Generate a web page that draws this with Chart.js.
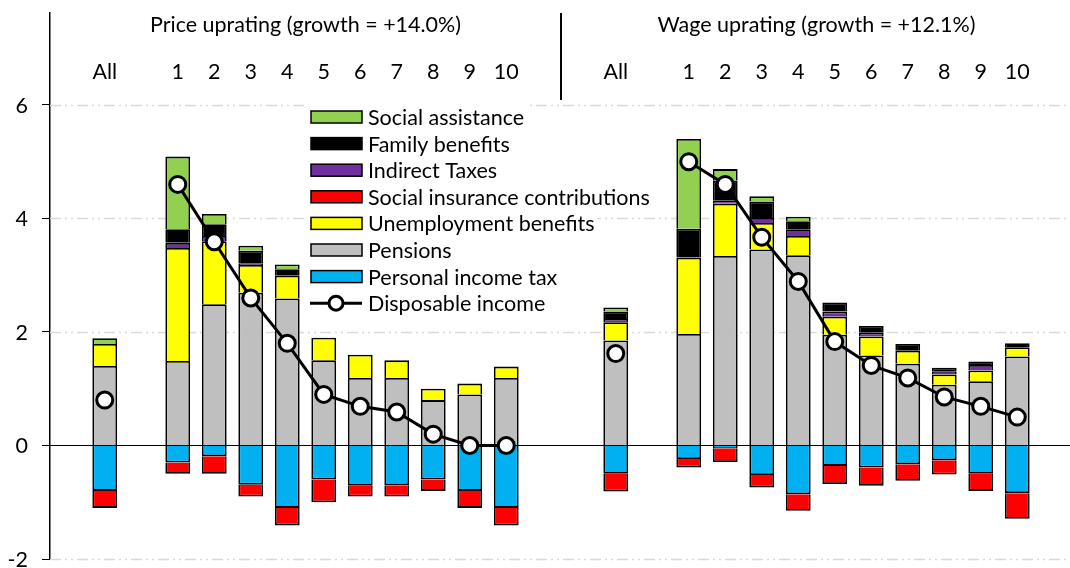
<!DOCTYPE html>
<html>
<head>
<meta charset="utf-8">
<script src="https://cdn.jsdelivr.net/npm/chart.js@4.4.1/dist/chart.umd.min.js"></script>
<style>
  html, body { margin: 0; padding: 0; background: #fff; overflow: hidden; }
  #wrap { width: 1083px; height: 568px; margin-top: 2px; }
</style>
</head>
<body>
<div id="wrap"><canvas id="chart" width="1083" height="568"></canvas></div>
<script>
// slots along the x axis: blank, All, blank, 1..10, two blanks, All, blank, 1..10, blank
const groupCats = ['All', '1', '2', '3', '4', '5', '6', '7', '8', '9', '10'];
const groupTitles = ['Price uprating (growth = +14.0%)', 'Wage uprating (growth = +12.1%)'];
const yTicks = [-2, 0, 2, 4, 6];

// values per group: [All, decile 1 .. decile 10]
const pricePIT      = [-0.80, -0.30, -0.19, -0.69, -1.10, -0.60, -0.71, -0.70, -0.60, -0.80, -1.10];
const pricePensions = [1.40, 1.49, 2.49, 2.69, 2.59, 1.50, 1.19, 1.19, 0.80, 0.90, 1.19];
const priceUnemp    = [0.39, 1.99, 1.11, 0.49, 0.40, 0.40, 0.41, 0.31, 0.20, 0.19, 0.20];
const priceSIC      = [-0.30, -0.20, -0.31, -0.21, -0.31, -0.40, -0.19, -0.20, -0.20, -0.30, -0.31];
const priceIndirect = [0, 0.09, 0.09, 0.02, 0, 0, 0, 0, 0, 0, 0];
const priceFamily   = [0, 0.24, 0.21, 0.23, 0.115, 0, 0, 0, 0, 0, 0];
const priceSocial   = [0.10, 1.28, 0.18, 0.09, 0.085, 0, 0, 0, 0, 0, 0];
const priceDisp     = [0.80, 4.60, 3.59, 2.60, 1.80, 0.90, 0.69, 0.59, 0.20, 0.00, 0.00];

const wagePIT      = [-0.50, -0.24, -0.05, -0.52, -0.86, -0.36, -0.39, -0.33, -0.26, -0.50, -0.84];
const wagePensions = [1.85, 1.965, 3.34, 3.455, 3.35, 1.95, 1.585, 1.44, 1.07, 1.13, 1.57];
const wageUnemp    = [0.32, 1.345, 0.92, 0.465, 0.34, 0.32, 0.335, 0.23, 0.18, 0.19, 0.16];
const wageSIC      = [-0.31, -0.15, -0.24, -0.22, -0.29, -0.32, -0.32, -0.29, -0.25, -0.30, -0.45];
const wageIndirect = [0.06, 0, 0.05, 0.09, 0.12, 0.09, 0.065, 0, 0.06, 0.10, 0];
const wageFamily   = [0.13, 0.51, 0.355, 0.29, 0.14, 0.16, 0.12, 0.12, 0.06, 0.06, 0.07];
const wageSocial   = [0.07, 1.58, 0.205, 0.09, 0.08, 0, 0, 0, 0, 0, 0];
const wageDisp     = [1.62, 5.00, 4.60, 3.67, 2.89, 1.83, 1.41, 1.19, 0.855, 0.69, 0.50];

const FONT = 'Lato, "Open Sans", sans-serif';
const FSIZE = 21.5;
const SHIFT = -2; // canvas sits 2px lower, text kept in place

// lay both groups out on one category axis, blanks between
function slots(a, b) {
  const g = v => [v[0], null].concat(v.slice(1));
  return [null].concat(g(a), [null, null], g(b), [null]);
}
const labels = slots(groupCats, groupCats).map(v => v === null ? '' : v);
function series(a, b, keepZero) {
  return slots(a, b).map(v => (v === 0 && !keepZero) ? null : v);
}

function bar(label, color, a, b) {
  return { type: 'bar', label: label, data: series(a, b), backgroundColor: color,
    borderColor: '#000', borderWidth: 1.8, stack: 'bars', order: 1,
    categoryPercentage: 1, barPercentage: 0.68 };
}

const datasets = [
  { type: 'line', label: 'Disposable income', data: series(priceDisp, wageDisp, true),
    borderColor: '#000', borderWidth: 3, pointRadius: 8, pointHoverRadius: 8,
    pointBackgroundColor: '#fff', pointBorderColor: '#000', pointBorderWidth: 3,
    stack: 'di', order: 0, spanGaps: false },
  bar('Personal income tax', '#00B0F0', pricePIT, wagePIT),
  bar('Pensions', '#BFBFBF', pricePensions, wagePensions),
  bar('Unemployment benefits', '#FFFF00', priceUnemp, wageUnemp),
  bar('Social insurance contributions', '#FF0000', priceSIC, wageSIC),
  bar('Indirect Taxes', '#7030A0', priceIndirect, wageIndirect),
  bar('Family benefits', '#000000', priceFamily, wageFamily),
  bar('Social assistance', '#92D050', priceSocial, wageSocial)
];

const decor = {
  id: 'decor',
  beforeDatasetsDraw(chart) {
    const ctx = chart.ctx, a = chart.chartArea, y = chart.scales.y;
    ctx.save();
    ctx.strokeStyle = '#D9D9D9';
    ctx.lineWidth = 1.5;
    ctx.setLineDash([11, 4, 2, 4, 2, 4]);
    yTicks.forEach(t => {
      if (t === 0) return;
      const py = Math.round(y.getPixelForValue(t)) + 0.5;
      ctx.beginPath(); ctx.moveTo(a.left, py); ctx.lineTo(a.right, py); ctx.stroke();
    });
    ctx.setLineDash([]);
    ctx.strokeStyle = '#000';
    ctx.lineWidth = 1.2;
    const z = y.getPixelForValue(0);
    ctx.beginPath(); ctx.moveTo(a.left, z); ctx.lineTo(a.right, z); ctx.stroke();
    // y tick labels
    ctx.fillStyle = '#000';
    ctx.font = FSIZE + 'px ' + FONT;
    ctx.textAlign = 'right';
    ctx.textBaseline = 'middle';
    yTicks.forEach(t => ctx.fillText(String(t), 28, y.getPixelForValue(t) + 1));
    ctx.restore();
  },
  afterDatasetsDraw(chart) {
    const ctx = chart.ctx, x = chart.scales.x;
    ctx.save();
    ctx.fillStyle = '#000';
    ctx.font = FSIZE + 'px ' + FONT;
    ctx.textAlign = 'center';
    ctx.textBaseline = 'middle';
    chart.data.labels.forEach((l, i) => {
      if (l) ctx.fillText(l, x.getPixelForValue(i), 72 + SHIFT);
    });
    // group titles centred over each group
    const first = [1, 15];
    groupTitles.forEach((t, g) => {
      const c = (x.getPixelForValue(first[g]) + x.getPixelForValue(first[g] + 11)) / 2;
      ctx.fillText(t, c, 25 + SHIFT);
    });
    // separator between the two groups
    const sx = (x.getPixelForValue(13) + x.getPixelForValue(14)) / 2;
    ctx.strokeStyle = '#000';
    ctx.lineWidth = 2;
    ctx.beginPath(); ctx.moveTo(sx, chart.chartArea.top); ctx.lineTo(sx, 100 + SHIFT); ctx.stroke();

    // legend
    const items = chart.data.datasets.filter(d => d.type === 'bar').reverse()
      .concat(chart.data.datasets.filter(d => d.type === 'line'));
    ctx.textAlign = 'left';
    items.forEach((d, i) => {
      const cy = 117 + SHIFT + i * 26.6;
      const w = ctx.measureText(d.label).width;
      ctx.fillStyle = '#fff';
      ctx.fillRect(307, cy - 13, 368 + w + 3 - 307, 26);
      if (d.type === 'bar') {
        ctx.fillStyle = d.backgroundColor;
        ctx.fillRect(311, cy - 6, 51, 12);
        ctx.strokeStyle = '#000';
        ctx.lineWidth = 1.5;
        ctx.strokeRect(311, cy - 6, 51, 12);
      } else {
        ctx.strokeStyle = '#000';
        ctx.lineWidth = 3;
        ctx.beginPath(); ctx.moveTo(310, cy); ctx.lineTo(362, cy); ctx.stroke();
        ctx.beginPath(); ctx.arc(336, cy, 7, 0, Math.PI * 2);
        ctx.fillStyle = '#fff'; ctx.fill(); ctx.stroke();
      }
      ctx.fillStyle = '#000';
      ctx.fillText(d.label, 368, cy + 1);
    });
    ctx.restore();
  }
};

new Chart(document.getElementById('chart'), {
  data: { labels: labels, datasets: datasets },
  plugins: [decor],
  options: {
    responsive: false,
    animation: false,
    layout: { padding: { top: 10, right: 1, bottom: 5.5, left: 0 } },
    plugins: { legend: { display: false }, tooltip: { enabled: false } },
    scales: {
      x: { type: 'category', stacked: true, display: false, offset: true },
      y: {
        stacked: true, min: -2, max: 7.62,
        afterFit(s) { s.width = 50; },
        afterBuildTicks(s) { s.ticks = s.ticks.filter(t => yTicks.includes(t.value)); },
        ticks: { display: false, stepSize: 2 },
        grid: { drawOnChartArea: false, tickColor: '#000', tickLength: 8, tickWidth: 1 },
        border: { display: true, color: '#000', width: 1.5 }
      }
    }
  }
});
</script>
</body>
</html>
